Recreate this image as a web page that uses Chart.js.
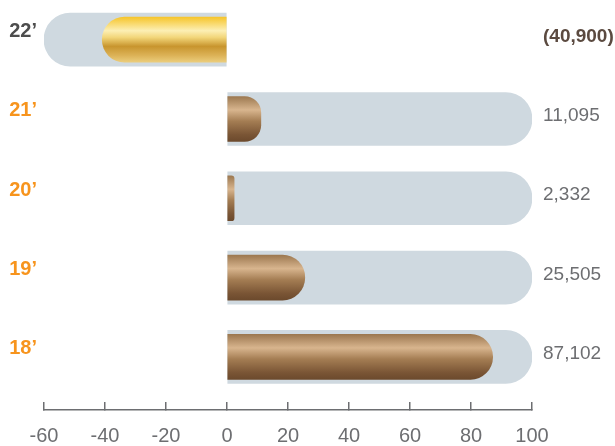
<!DOCTYPE html>
<html>
<head>
<meta charset="utf-8">
<script src="https://cdn.jsdelivr.net/npm/chart.js@4/dist/chart.umd.min.js"></script>
<style>
  body { margin: 0; background: #fff; }
  #wrap { width: 615px; height: 446px; }
</style>
</head>
<body>
<div id="wrap"><canvas id="myChart"></canvas></div>
<script>
// years shown top to bottom
const categories = ['22’', '21’', '20’', '19’', '18’']
// bar values (thousands)
const values = [-40.9, 11.095, 2.332, 25.505, 87.102]
// grey track behind each bar
const trackValues = [[-60, 0], [0, 100], [0, 100], [0, 100], [0, 100]]
// text on the right
const valueLabels = ['(40,900)', '11,095', '2,332', '25,505', '87,102']
const xTicks = [-60, -40, -20, 0, 20, 40, 60, 80, 100]

const FONT = "'Liberation Sans', Arial, sans-serif"
const AXIS_GREY = '#6d6e71'
const TRACK = '#cfd9e0'
const BAR_H = 45
const TRACK_H = 53

const goldStops = [[0, '#f6c52c'], [0.3, '#fcefb4'], [0.45, '#f2d67a'], [0.65, '#c8952e'], [0.85, '#dcb257'], [1, '#ebcd7c']]
const brownStops = [[0, '#9c7850'], [0.3, '#d8b58e'], [0.55, '#a47d53'], [0.85, '#7a5535'], [1, '#6c4a2d']]

function barGradient(ctx) {
  const chart = ctx.chart
  const stops = ctx.dataIndex === 0 ? goldStops : brownStops
  const yScale = chart.scales.y
  if (!chart.chartArea || !yScale) return stops[1][1]
  const yc = yScale.getPixelForValue(ctx.dataIndex)
  const g = chart.ctx.createLinearGradient(0, yc - BAR_H / 2, 0, yc + BAR_H / 2)
  stops.forEach(s => g.addColorStop(s[0], s[1]))
  return g
}

// round only the outer end of the bar
function outerRadius(negative) {
  return negative
    ? { topLeft: 40, bottomLeft: 40, topRight: 0, bottomRight: 0 }
    : { topLeft: 0, bottomLeft: 0, topRight: 40, bottomRight: 40 }
}

const ctx = document.querySelector('#myChart').getContext('2d')

new Chart(ctx, {
  type: 'bar',
  data: {
    datasets: [{
      label: 'value',
      data: values.map((v, i) => ({ x: v, y: i })),
      backgroundColor: barGradient,
      barThickness: BAR_H,
      grouped: false,
      order: 0,
      borderSkipped: false,
      borderRadius: c => outerRadius(values[c.dataIndex] < 0)
    }, {
      label: 'track',
      data: trackValues.map((v, i) => ({ x: v, y: i })),
      backgroundColor: TRACK,
      barThickness: TRACK_H,
      grouped: false,
      order: 1,
      borderSkipped: false,
      borderRadius: c => outerRadius(trackValues[c.dataIndex][0] < 0)
    }]
  },
  options: {
    indexAxis: 'y',
    responsive: true,
    maintainAspectRatio: false,
    animation: false,
    layout: { padding: 0 },
    plugins: {
      legend: { display: false },
      tooltip: { enabled: false }
    },
    scales: {
      x: {
        type: 'linear',
        min: -60,
        max: 100,
        afterBuildTicks: s => { s.ticks = xTicks.map(v => ({ value: v })) },
        afterFit: s => { s.height = 36 },
        grid: {
          drawOnChartArea: false,
          drawTicks: true,
          tickLength: -8, //tick marks point up from the axis line
          color: AXIS_GREY,
          lineWidth: 1.5
        },
        border: { display: true, color: AXIS_GREY, width: 1.5 },
        ticks: {
          color: AXIS_GREY,
          padding: 22,
          font: { family: FONT, size: 20 }
        }
      },
      y: {
        type: 'linear',
        reverse: true,
        offset: false,
        bounds: 'data',
        min: -0.5,
        max: 4.67,
        afterBuildTicks: s => { s.ticks = categories.map((c, i) => ({ value: i })) },
        afterFit: s => { s.width = 44; s.paddingTop = 0; s.paddingBottom = 0 },
        grid: { display: false, drawTicks: false },
        border: { display: false },
        ticks: {
          callback: v => categories[v],
          color: c => c.index === 0 ? '#4d4d4d' : '#f7941d',
          padding: 7,
          labelOffset: -8,
          font: { family: FONT, size: 20, weight: 'bold' }
        }
      },
      y2: {
        type: 'linear',
        position: 'right',
        reverse: true,
        offset: false,
        bounds: 'data',
        min: -0.5,
        max: 4.67,
        afterBuildTicks: s => { s.ticks = valueLabels.map((c, i) => ({ value: i })) },
        afterFit: s => { s.width = 83; s.paddingTop = 0; s.paddingBottom = 0 },
        grid: { display: false, drawTicks: false },
        border: { display: false },
        ticks: {
          callback: v => valueLabels[v],
          color: c => c.index === 0 ? '#5b4a40' : AXIS_GREY,
          padding: 11,
          labelOffset: -3,
          font: c => ({ family: FONT, size: 19, weight: c.index === 0 ? 'bold' : 'normal' })
        }
      }
    }
  }
})
</script>
</body>
</html>
